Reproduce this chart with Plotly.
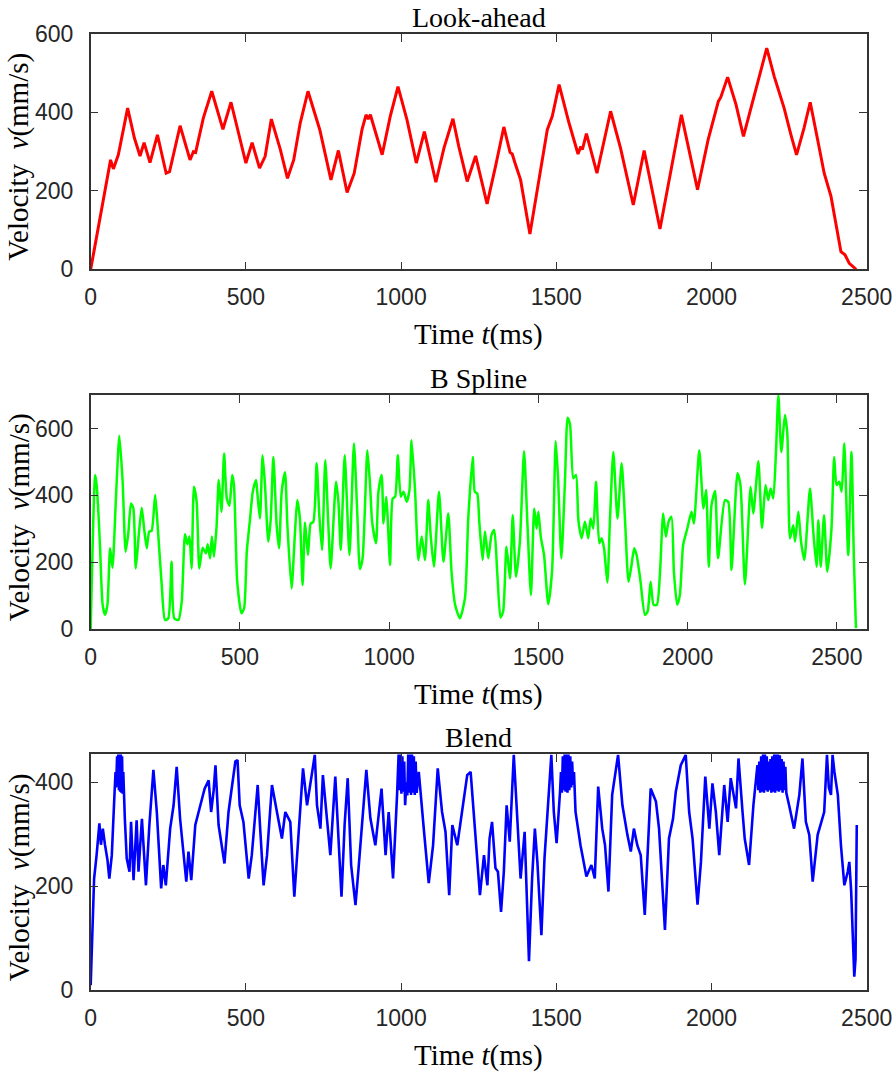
import plotly.graph_objects as go

# ---------------- data ----------------
look_t = [0, 64, 73, 89, 119, 141, 159, 172, 191, 215, 243, 254, 288, 320, 331, 338, 363, 390, 426, 452,
          500, 520, 544, 562, 582, 611, 634, 654, 675, 700, 738, 774, 798, 826, 849, 874, 887, 894, 901, 917,
          939, 965, 990, 1019, 1049, 1075, 1112, 1138, 1167, 1186, 1213, 1240, 1277, 1304, 1331, 1351, 1358,
          1369, 1385, 1415, 1444, 1471, 1487, 1509, 1541, 1570, 1579, 1584, 1597, 1631, 1675, 1707, 1748, 1783,
          1834, 1869, 1903, 1955, 1989, 2022, 2030, 2052, 2079, 2103, 2138, 2178, 2202, 2234, 2256, 2274, 2298,
          2318, 2341, 2363, 2385, 2401, 2417, 2430, 2444, 2466]
look_v = [0, 279, 256, 292, 411, 334, 289, 323, 272, 343, 245, 249, 366, 279, 300, 298, 386, 454, 357, 426,
          271, 323, 258, 288, 383, 305, 232, 279, 373, 454, 356, 228, 303, 196, 245, 356, 394, 383, 394, 351,
          292, 390, 466, 381, 271, 351, 222, 309, 384, 313, 224, 289, 167, 262, 363, 298, 294,
          266, 228, 90, 228, 356, 390, 471, 373, 294, 313, 305, 346, 245, 403, 309, 164, 303,
          103, 254, 394, 203, 330, 428, 439, 490, 420, 339, 445, 564, 492, 411, 343, 292, 360,
          426, 334, 245, 186, 117, 45, 37, 15, 0]

bs_t = [0, 15, 20, 26, 31, 40, 48, 56, 65, 73, 85, 96, 107, 117, 126, 135, 143, 151, 162, 171, 179, 188, 196,
        204, 216, 225, 238, 249, 260, 271, 280, 294, 305, 316, 324, 331, 338, 346, 355, 364, 375, 386, 392,
        400, 406, 413, 422, 429, 438, 447, 456, 465, 474, 480, 491, 505, 514, 523, 534, 543, 554, 559, 567,
        576, 584, 595, 603, 612, 623, 631, 640, 651, 659, 673, 684, 692, 701, 710, 718, 728, 737, 746, 757,
        766, 775, 786, 796, 804, 822, 830, 838, 851, 867, 882, 893, 902, 911, 927, 936, 943, 956, 964, 975,
        981, 990, 994, 1003, 1012, 1020, 1029, 1039, 1048, 1059, 1068, 1075, 1087, 1098, 1109, 1120, 1131,
        1139, 1150, 1167, 1182, 1198, 1209, 1221, 1237, 1254, 1265, 1280, 1287, 1295, 1302, 1313, 1321,
        1332, 1343, 1352, 1362, 1373, 1382, 1393, 1405, 1414, 1425, 1438, 1452, 1463, 1475, 1486, 1494,
        1500, 1508, 1519, 1533, 1546, 1558, 1566, 1577, 1589, 1598, 1606, 1617, 1626, 1634, 1645, 1656,
        1667, 1675, 1684, 1693, 1704, 1712, 1720, 1731, 1740, 1751, 1765, 1779, 1790, 1802, 1812, 1821,
        1829, 1841, 1857, 1866, 1876, 1886, 1897, 1907, 1918, 1927, 1936, 1946, 1954, 1965, 1974, 1985,
        1999, 2013, 2021, 2039, 2053, 2062, 2071, 2080, 2092, 2102, 2125, 2136, 2147, 2167, 2177, 2192,
        2211, 2220, 2237, 2249, 2261, 2270, 2278, 2287, 2296, 2304, 2314, 2326, 2334, 2343, 2354, 2360,
        2371, 2380, 2391, 2410, 2421, 2432, 2438, 2446, 2457, 2468, 2482, 2491, 2499, 2508, 2516, 2525,
        2538, 2549, 2557, 2564]
bs_v = [0, 461, 431, 346, 252, 73, 43, 73, 242, 184, 401, 578, 441, 232, 287, 376, 361, 182, 292, 363, 301,
        242, 292, 294, 401, 301, 132, 28, 33, 202, 33, 28, 83, 284, 254, 277, 182, 426, 381, 182, 244, 227,
        254, 212, 277, 217, 311, 446, 351, 525, 391, 369, 461, 431, 142, 48, 63, 232, 331, 411, 446, 401,
        331, 520, 431, 262, 326, 515, 311, 242, 411, 469, 311, 122, 282, 386, 331, 132, 319, 222, 316, 321,
        496, 341, 237, 505, 316, 182, 441, 381, 237, 520, 222, 555, 351, 180, 212, 535, 431, 321, 257, 411,
        461, 316, 396, 351, 192, 391, 396, 520, 396, 411, 381, 416, 565, 411, 207, 277, 207, 386, 282, 187,
        411, 202, 346, 172, 73, 33, 93, 331, 515, 411, 406, 321, 207, 292, 212, 282, 297, 172, 35, 53, 247,
        152, 341, 157, 262, 532, 321, 102, 361, 301, 351, 277, 222, 75, 177, 562, 451, 212, 441, 632, 612,
        451, 461, 326, 272, 321, 272, 331, 301, 441, 257, 272, 242, 140, 331, 530, 331, 496, 331, 142, 192,
        242, 222, 152, 43, 53, 142, 73, 73, 162, 346, 277, 321, 336, 172, 73, 102, 252, 301, 351, 316, 535,
        361, 416, 187, 371, 413, 212, 386, 381, 177, 466, 431, 134, 426, 346, 502, 303, 431, 386, 421, 391,
        530, 700, 530, 640, 585, 272, 311, 262, 351, 262, 207, 421, 292, 187, 326, 187, 341, 172, 301, 515,
        431, 441, 411, 555, 222, 530, 212, 3]

blend_t = [0, 6, 11, 19, 28, 33, 39, 46, 54, 60, 68, 76,
           80, 82, 85, 87, 89, 91, 93, 95, 97, 99, 101, 103, 105,
           110, 116, 125, 130, 138, 148, 154, 165, 178, 189, 202, 213, 227, 234, 242, 256, 267, 277, 288,
           308, 315, 324, 337, 353, 367, 380, 388, 396, 402, 412, 431, 444, 458, 466, 473, 480, 492, 509,
           519, 538, 546, 557, 568, 584, 600, 616, 627, 643, 656, 667, 684, 697, 708, 722, 729, 740, 748,
           761, 772, 788, 799, 808, 818, 828, 839, 853, 863, 874, 888, 901, 917, 937, 950, 960, 974, 987,
           992, 995, 998, 1001, 1004, 1007, 1010, 1013, 1017, 1020, 1023, 1026, 1029, 1032, 1035, 1038,
           1041, 1044, 1047, 1050,
           1057, 1073, 1089, 1103, 1118, 1132, 1143, 1155, 1165, 1181, 1197, 1213, 1224, 1234, 1243, 1254,
           1267, 1278, 1285, 1293, 1304, 1312, 1322, 1331, 1340, 1350, 1363, 1374, 1385, 1398, 1412, 1422,
           1431, 1439, 1452, 1462, 1473, 1484, 1492, 1501, 1512,
           1515, 1518, 1521, 1524, 1527, 1530, 1533, 1536, 1539, 1542, 1545, 1548, 1551, 1554, 1557,
           1562, 1578, 1597, 1613, 1624, 1635, 1648, 1657, 1668, 1680, 1699, 1713, 1729, 1740, 1750, 1761,
           1772, 1785, 1793, 1804, 1821, 1831, 1850, 1863, 1876, 1885, 1901, 1917, 1928, 1939, 1955, 1966,
           1980, 1993, 2003, 2014, 2025, 2041, 2052, 2062, 2079, 2087, 2100, 2107, 2121, 2135, 2148,
           2151, 2154, 2157, 2160, 2163, 2166, 2169, 2172, 2175, 2178, 2181, 2184, 2187, 2190, 2193, 2196,
           2199, 2202, 2205, 2208, 2211, 2214, 2217, 2220, 2223, 2226, 2229, 2232, 2235, 2238, 2241,
           2250, 2266, 2283, 2293, 2304, 2315, 2326, 2342, 2363, 2372, 2378, 2385, 2390, 2396, 2407, 2417,
           2428, 2439, 2444, 2450, 2460, 2464, 2468]
blend_v = [10, 138, 215, 260, 321, 280, 311, 280, 251, 215, 260, 369,
           420, 390, 450, 395, 454, 385, 454, 382, 454, 380, 450, 378, 420,
           330, 254, 228, 324, 212, 327, 228, 330, 202, 318, 424, 343, 196, 241, 202, 311, 356, 430, 330,
           209, 267, 212, 318, 353, 388, 404, 343, 384, 433, 318, 244, 343, 408, 440, 443, 356, 324, 215,
           260, 395, 311, 202, 260, 395, 343, 292, 343, 324, 180, 279, 427, 356, 395, 453, 356, 311, 414,
           324, 260, 411, 292, 180, 318, 408, 241, 164, 235, 311, 424, 331, 279, 388, 260, 343, 215, 376,
           454, 385, 454, 378, 450, 382, 440, 356, 400, 375, 454, 380, 454, 376, 454, 380,
           450, 376, 440, 380,
           420, 311, 206, 279, 427, 343, 305, 183, 318, 279, 343, 414, 420, 343, 286, 183,
           260, 202, 292, 324, 235, 228, 151, 228, 356, 286, 453, 343, 215, 305, 56, 215,
           311, 247, 106, 254, 356, 453, 343, 283, 382,
           420, 380, 450, 385, 454, 382, 454, 380, 454, 385, 450, 390, 440, 395, 420,
           343, 279, 219, 241, 215, 392, 311, 279, 190, 376, 453, 356, 299, 267, 311, 279,
           260, 145, 247, 388, 363, 311, 116, 292, 330, 382, 433, 453, 343, 292, 165, 247,
           411, 311, 398, 343, 260, 395, 324, 408, 350, 446, 343, 292, 241, 356, 433,
           385, 440, 380, 450, 382, 454, 380, 454, 385, 450, 382, 440, 385, 445, 380, 450,
           382, 454, 380, 454, 384, 454, 382, 452, 385, 445, 380, 440, 385, 430, 380,
           356, 311, 376, 446, 324, 299, 209, 299, 343, 453, 390, 376, 453, 420, 376, 279,
           202, 228, 247, 190, 26, 61, 318]

panel_titles = ["Look-ahead", "B Spline", "Blend"]
x_ranges = [[0, 2500], [0, 2600], [0, 2500]]
y_ranges = [[0, 600], [0, 700], [0, 454]]
x_ticks = [0, 500, 1000, 1500, 2000, 2500]
y_ticks = [[0, 200, 400, 600], [0, 200, 400, 600], [0, 200, 400]]
colors = ["#ff0000", "#00ff00", "#0000ff"]

# ---------------- layout geometry (pixels, page coordinates) ----------------
W, H = 896, 1075
left_px, right_px = 90.7, 866.7
panel_px = [(34.0, 269.3), (395.0, 629.3), (754.3, 990.3)]

fig = go.Figure()
series = [(look_t, look_v, 3, "linear"), (bs_t, bs_v, 2.5, "spline"), (blend_t, blend_v, 2.6, "linear")]
axis_color = "#333333"
tick_font = dict(family="Liberation Sans, Arial, sans-serif", size=23, color="#262626")
serif = "Liberation Serif, Times New Roman, serif"

for i, (t, v, w, shape) in enumerate(series):
    n = "" if i == 0 else str(i + 1)
    line = dict(color=colors[i], width=w, shape=shape)
    if shape == "spline":
        line["smoothing"] = 0.6
    fig.add_trace(go.Scatter(x=t, y=v, mode="lines", line=line, xaxis="x" + n, yaxis="y" + n,
                             showlegend=False))
    top, bot = panel_px[i]
    common = dict(showline=True, linecolor=axis_color, linewidth=1.5, mirror="ticks", ticks="inside",
                  ticklen=8, tickcolor=axis_color, tickwidth=1.2, showgrid=False, zeroline=False,
                  tickfont=tick_font, automargin=False)
    fig.update_layout(**{
        "xaxis" + n: dict(domain=[left_px / W, right_px / W], range=x_ranges[i], tickvals=x_ticks,
                          anchor="y" + n, ticklabelstandoff=6, **common),
        "yaxis" + n: dict(domain=[1 - bot / H, 1 - top / H], range=y_ranges[i], tickvals=y_ticks[i],
                          anchor="x" + n, ticklabelstandoff=11, **common),
    })
    cx = (left_px + right_px) / 2 / W
    fig.add_annotation(text=panel_titles[i], xref="paper", yref="paper", x=cx, y=1 - (top - 17) / H,
                       showarrow=False, font=dict(family=serif, size=28, color="#000000"),
                       xanchor="center", yanchor="middle")
    fig.add_annotation(text="Time <i>t</i>(ms)", xref="paper", yref="paper", x=cx, y=1 - (bot + 65) / H,
                       showarrow=False, font=dict(family=serif, size=29, color="#000000"),
                       xanchor="center", yanchor="middle")
    fig.add_annotation(text="Velocity  <i>v</i>(mm/s)", xref="paper", yref="paper", x=19 / W,
                       y=1 - ((top + bot) / 2 + 5) / H, textangle=-90,
                       showarrow=False, font=dict(family=serif, size=29, color="#000000"),
                       xanchor="center", yanchor="middle")

fig.update_layout(width=W, height=H, margin=dict(l=0, r=0, t=0, b=0),
                  paper_bgcolor="white", plot_bgcolor="white")

# remove the browser's default 8px body margin so the figure fills the window exactly
fig.write_html("out.html", config={"displayModeBar": False},
               post_script="document.body.style.margin='0';document.body.style.overflow='hidden';")
